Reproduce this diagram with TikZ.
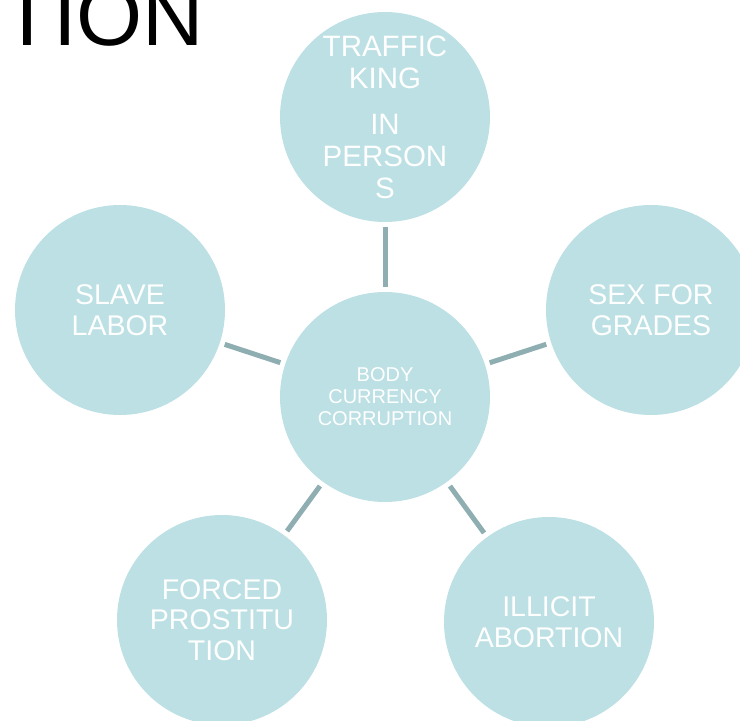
\documentclass[tikz,border=0pt]{standalone}
\usepackage{fontspec}
\setmainfont{Liberation Sans}
\definecolor{bubblefill}{RGB}{188,224,227}
\definecolor{linkgray}{RGB}{143,174,178}
\tikzset{
  bubble/.style={circle, fill=bubblefill, minimum size=210pt, inner sep=0pt,
    text=white, align=center, font=\fontsize{28.5}{30.5}\selectfont},
  link/.style={draw=linkgray, line width=5pt, shorten >=5pt, shorten <=5pt}
}

\begin{document}
\begin{tikzpicture}[x=1pt,y=-1pt]
  \useasboundingbox (0,0) rectangle (740,721);

  % 标题残字
  \node[anchor=base west, inner sep=0pt, font=\fontsize{85}{85}\selectfont] (title) at (1,45) {TION};

  % 中心圆
  \node[bubble, font=\fontsize{20}{22}\selectfont] (core) at (385,397) {BODY\\CURRENCY\\CORRUPTION};

  % 周围五个圆
  \node[bubble, font=\fontsize{29.5}{32}\selectfont] (traffic) at (385,117) {TRAFFIC\\KING\\[14pt]IN\\PERSON\\S};
  \node[bubble] (slave) at (120,310) {SLAVE\\LABOR};
  \node[bubble] (grades) at (651,310) {SEX FOR\\GRADES};
  \node[bubble] (prostitution) at (222,620) {FORCED\\PROSTITU\\TION};
  \node[bubble] (abortion) at (549,622) {ILLICIT\\ABORTION};

  % 连线
  \draw[link] (core) -- (traffic);
  \draw[link] (core) -- (slave);
  \draw[link] (core) -- (grades);
  \draw[link] (core) -- (prostitution);
  \draw[link] (core) -- (abortion);

\end{tikzpicture}
\end{document}
